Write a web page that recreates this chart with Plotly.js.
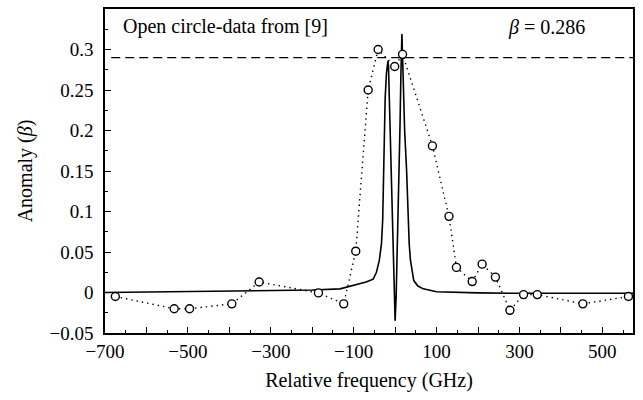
<!DOCTYPE html>
<html>
<head>
<meta charset="utf-8">
<script src="https://cdn.plot.ly/plotly-3.0.1.min.js"></script>
<style>
html,body{margin:0;padding:0;background:#fff;}
#chart{width:643px;height:400px;}
</style>
</head>
<body>
<div id="chart"></div>
<script>
// Open-circle measured data (from [9])
const dataFreq = [-675, -533, -496, -394, -328, -185, -124, -95, -65, -41, -1, 18, 90, 130, 148, 186, 210, 242, 277, 310, 343, 453, 563];
const dataAnom = [-0.005, -0.020, -0.020, -0.014, 0.013, -0.0005, -0.014, 0.051, 0.250, 0.300, 0.279, 0.294, 0.181, 0.094, 0.031, 0.0135, 0.035, 0.019, -0.022, -0.0026, -0.0026, -0.014, -0.005];

// Solid theoretical curve
const curveFreq = [-700, -600, -500, -400, -300, -200, -133, -93, -70, -53, -45, -38, -33, -30, -27.7, -26, -24, -21, -18.5, -17.3, -16, -14, -12, -10, -8, -5, -2.5, 0, 2.5, 5, 8, 10, 12, 14, 15.5, 16.4, 17.5, 20, 23, 27.7, 30, 31.6, 34, 37, 41, 45, 55, 68, 100, 150, 200, 300, 574];
const curveAnom = [0, 0.0005, 0.001, 0.0015, 0.002, 0.003, 0.0045, 0.0095, 0.013, 0.0165, 0.025, 0.04, 0.06, 0.089, 0.151, 0.2, 0.24, 0.27, 0.283, 0.286, 0.28, 0.24, 0.19, 0.151, 0.1, 0.04, -0.005, -0.035, -0.005, 0.045, 0.1, 0.151, 0.21, 0.27, 0.305, 0.319, 0.3, 0.25, 0.2, 0.151, 0.11, 0.089, 0.06, 0.04, 0.024, 0.0147, 0.008, 0.0045, 0.001, 0, -0.0005, -0.001, -0.001];

// Reference level (dashed)
const refFreq = [-685, 574];
const refAnom = [0.29, 0.29];

const FONT = 'Liberation Serif';

const traces = [
  {x: refFreq, y: refAnom, mode: 'lines', line: {color: '#000', width: 1.3, dash: '9px,5px'}, hoverinfo: 'skip'},
  {x: curveFreq, y: curveAnom, mode: 'lines', line: {color: '#000', width: 1.6}, hoverinfo: 'skip'},
  {x: dataFreq, y: dataAnom, mode: 'lines+markers',
   line: {color: '#000', width: 1.4, dash: '1.4px,4px'},
   marker: {symbol: 'circle', size: 8, color: '#fff', line: {color: '#000', width: 1.4}}}
];

const layout = {
  width: 643, height: 400,
  margin: {l: 105, r: 10, t: 9, b: 67},
  paper_bgcolor: '#fff', plot_bgcolor: '#fff',
  showlegend: false,
  font: {family: FONT, size: 19, color: '#000'},
  xaxis: {
    range: [-700, 574], autorange: false,
    tick0: -700, dtick: 100, ticklabelstep: 2,
    ticks: 'inside', ticklen: 6, tickwidth: 1.2, tickcolor: '#000',
    minor: {dtick: 50, ticks: 'inside', ticklen: 3, tickwidth: 1.2, tickcolor: '#000'},
    showline: true, linecolor: '#000', linewidth: 1.5, mirror: true,
    showgrid: false, zeroline: false,
    tickfont: {family: FONT, size: 19, color: '#000'},
    title: {text: 'Relative frequency (GHz)', font: {family: FONT, size: 20, color: '#000'}, standoff: 12}
  },
  yaxis: {
    range: [-0.05, 0.35], autorange: false,
    tick0: -0.05, dtick: 0.05,
    ticks: 'inside', ticklen: 6, tickwidth: 1.2, tickcolor: '#000',
    minor: {dtick: 0.025, ticks: 'inside', ticklen: 3, tickwidth: 1.2, tickcolor: '#000'},
    showline: true, linecolor: '#000', linewidth: 1.5, mirror: true,
    showgrid: false, zeroline: false,
    ticklabelstandoff: 6,
    tickfont: {family: FONT, size: 19, color: '#000'},
    title: {text: 'Anomaly (<i>β</i>)', font: {family: FONT, size: 20, color: '#000'}, standoff: 11}
  },
  annotations: [
    {x: -662, y: 0.328, xref: 'x', yref: 'y', xanchor: 'left', yanchor: 'middle', showarrow: false,
     text: 'Open circle-data from [9]', font: {family: FONT, size: 20, color: '#000'}},
    {x: 462, y: 0.327, xref: 'x', yref: 'y', xanchor: 'right', yanchor: 'middle', showarrow: false,
     text: '<i>β</i> = 0.286', font: {family: FONT, size: 20, color: '#000'}}
  ]
};

Plotly.newPlot('chart', traces, layout, {displayModeBar: false}).then(function () {
  document.querySelectorAll('#chart svg text, #chart svg tspan').forEach(function (el) {
    el.style.setProperty('font-family', "'Liberation Serif', 'Times New Roman', serif", 'important');
  });
});
</script>
</body>
</html>
